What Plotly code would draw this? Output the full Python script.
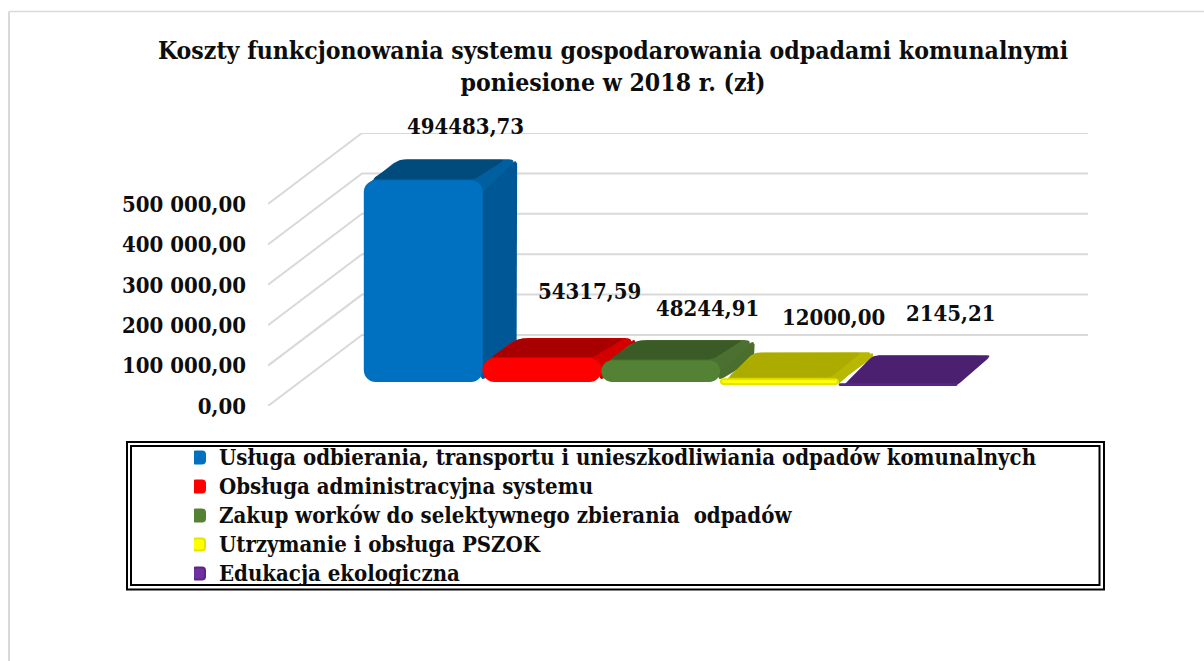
import plotly.graph_objects as go

# ---- data ----
categories = ["Usługa odbierania, transportu i unieszkodliwiania odpadów komunalnych",
              "Obsługa administracyjna systemu",
              "Zakup worków do selektywnego zbierania  odpadów",
              "Utrzymanie i obsługa PSZOK",
              "Edukacja ekologiczna"]
values = [494483.73, 54317.59, 48244.91, 12000.00, 2145.21]
tick_values = [0, 100000, 200000, 300000, 400000, 500000]
tick_labels = ["0,00", "100 000,00", "200 000,00", "300 000,00", "400 000,00", "500 000,00"]
title_lines = ["Koszty funkcjonowania systemu gospodarowania odpadami komunalnymi",
               "poniesione w 2018 r. (zł)"]

# ---- styles ----
front_colors = ["#0070C0", "#FF0000", "#548235", "#FFFF00", "#7030A0"]
front_lines = ["#0070C0", "#FF0000", "#548235", "#E4E400", "#5A2585"]
side_colors = ["#005796", "#C80000", "#4A6E2E", "#B8B800", "#4C2070"]
top_edge = ["#00609F", "#D40000", "#4C7030", "#B8B800", "#4C2070"]
top_inner = ["#004A7C", "#A80000", "#3A5B25", "#ABAB00", "#4C2070"]
FONT = "DejaVu Serif Condensed, DejaVu Serif, serif"
INK = "#0D0D0D"
GRID = "#D9D9D9"

# ---- layout geometry (pixels of the 1204x661 page) ----
W, H = 1204, 661
PLOT_L, PLOT_R, PLOT_T, PLOT_B = 268, 1088, 133, 406
STEP = 118.7            # px per category
X0_PX = 423.3           # px centre of first category
PX_PER_UNIT = 40.4 / 100000
WALL_DX, WALL_DY = 94, 71
BAR_RAISE = [25, 25, 25, 22, 21]
BAR_DX = [34.5, 34.5, 34.5, 34.5, 34.5]
BAR_DY = [22, 21, 21.5, 27, 29]
RADIUS = [11, 11, 11, 8, 7]
TOP_RADIUS = [11, 14, 14, 8, 7]
LABEL_DX = [42.5, 47, 47, 54.5, 53]   # label offset from bar centre, px
LABEL_DY = [55, 68, 53.5, 62.5, 71.4]  # label offset above bar front top, px

x_rng = [(PLOT_L - X0_PX) / STEP, (PLOT_R - X0_PX) / STEP]
y_rng = [0, (PLOT_B - PLOT_T) / PX_PER_UNIT]
dom_y = [1 - PLOT_B / H, 1 - PLOT_T / H]


def ux(px):
    return px / STEP


def uy(px):
    return px / PX_PER_UNIT


def rounded(pts, r, n=6):
    """Round polygon corners; pts are in data units, r in px."""
    P = [(a * STEP, b * PX_PER_UNIT) for a, b in pts]
    out = []
    m = len(P)
    for k in range(m):
        p0, p1, p2 = P[k - 1], P[k], P[(k + 1) % m]
        d1 = ((p0[0] - p1[0]) ** 2 + (p0[1] - p1[1]) ** 2) ** .5
        d2 = ((p2[0] - p1[0]) ** 2 + (p2[1] - p1[1]) ** 2) ** .5
        rr = min(r, d1 / 2, d2 / 2)
        a = (p1[0] + (p0[0] - p1[0]) * rr / d1, p1[1] + (p0[1] - p1[1]) * rr / d1)
        b = (p1[0] + (p2[0] - p1[0]) * rr / d2, p1[1] + (p2[1] - p1[1]) * rr / d2)
        for t in range(n + 1):
            s = t / n
            out.append(((1 - s) ** 2 * a[0] + 2 * s * (1 - s) * p1[0] + s * s * b[0],
                        (1 - s) ** 2 * a[1] + 2 * s * (1 - s) * p1[1] + s * s * b[1]))
    out.append(out[0])
    return [q[0] / STEP for q in out], [q[1] / PX_PER_UNIT for q in out]


fig = go.Figure()


def poly(xs, ys, color):
    fig.add_trace(go.Scatter(x=xs, y=ys, mode="lines", fill="toself", fillcolor=color,
                             line=dict(color=color, width=0), showlegend=False,
                             hoverinfo="skip", xaxis="x", yaxis="y"))


# walls
wx0 = x_rng[0]
wx1 = wx0 + ux(WALL_DX)
wx2 = x_rng[1]
for tv in tick_values:
    fig.add_trace(go.Scatter(x=[wx0, wx1, wx2], y=[tv, tv + uy(WALL_DY), tv + uy(WALL_DY)],
                             mode="lines", line=dict(color=GRID, width=2), showlegend=False,
                             hoverinfo="skip", xaxis="x", yaxis="y"))

# top and side faces, computed from the values
for i, v in enumerate(values):
    b = uy(BAR_RAISE[i])
    dx, dy = ux(BAR_DX[i]), uy(BAR_DY[i])
    L, R = i - .5, i + .5
    h = v + b
    sink = uy(min(RADIUS[i], v * PX_PER_UNIT))   # faces run under the front's rounded corners
    xs, ys = rounded([(R - ux(2), b), (R - ux(2), h), (R + dx, h + dy), (R + dx, b + dy)], 6)
    poly(xs, ys, side_colors[i])
    xs, ys = rounded([(R - ux(RADIUS[i]), h - sink), (R, h - sink), (R + dx, h + dy),
                      (L + dx, h + dy), (L + ux(5), h - uy(1)), (L + ux(RADIUS[i]), h - sink)],
                     TOP_RADIUS[i] * .8)
    poly(xs, ys, top_edge[i])
    xs, ys = rounded([(L + ux(8), h + uy(2)), (R - ux(8), h + uy(2)),
                      (R + dx - ux(12), h + dy - uy(0.5)), (L + dx + ux(2), h + dy - uy(0.5))], 4)
    poly(xs, ys, top_inner[i])

# front faces (bars on an overlaid y axis, so they sit over neighbours' faces)
for i, v in enumerate(values):
    fig.add_trace(go.Bar(x=[i], y=[v], base=[uy(BAR_RAISE[i])], width=[ux(117)],
                         name=f'<span style="font-size:22px">{categories[i]}</span>',
                         marker=dict(color=front_colors[i], cornerradius=RADIUS[i],
                                     line=dict(color=front_lines[i], width=2)),
                         xaxis="x", yaxis="y2", hoverinfo="skip"))

annotations = []
for i, v in enumerate(values):
    annotations.append(dict(x=i, y=v, xref="x", yref="y2",
                            xshift=LABEL_DX[i], yshift=BAR_RAISE[i] + LABEL_DY[i],
                            text=f"{v:.2f}".replace(".", ","), showarrow=False,
                            font=dict(family=FONT, size=22, color=INK, weight="bold")))

shapes = [
    # page frame
    dict(type="line", xref="paper", yref="paper", x0=9 / W, x1=1, y0=1 - 11.5 / H, y1=1 - 11.5 / H,
         line=dict(color=GRID, width=1.5)),
    dict(type="line", xref="paper", yref="paper", x0=9 / W, x1=9 / W, y0=0, y1=1 - 11.5 / H,
         line=dict(color=GRID, width=2)),
    # double legend border
    dict(type="rect", xref="paper", yref="paper", x0=127 / W, x1=1104 / W, y0=1 - 589.5 / H, y1=1 - 442 / H,
         line=dict(color="#000000", width=2)),
    dict(type="rect", xref="paper", yref="paper", x0=131 / W, x1=1099.5 / W, y0=1 - 585 / H, y1=1 - 446 / H,
         line=dict(color="#000000", width=2)),
]

fig.update_layout(
    width=W, height=H, margin=dict(l=0, r=0, t=0, b=0, autoexpand=False),
    paper_bgcolor="white", plot_bgcolor="rgba(0,0,0,0)", barmode="overlay",
    title=dict(text="<br>".join(title_lines),
               x=613 / W, xanchor="center", y=1 - 59 / H, yanchor="top",
               font=dict(family=FONT, size=24.6, color=INK, weight="bold")),
    xaxis=dict(domain=[PLOT_L / W, PLOT_R / W], range=x_rng, visible=False, fixedrange=True, automargin=False),
    yaxis=dict(domain=dom_y, range=y_rng, tickmode="array", tickvals=tick_values, ticktext=tick_labels,
               showgrid=False, zeroline=False, showline=False, ticks="", ticklabelstandoff=21, automargin=False,
               tickfont=dict(family=FONT, size=22, color=INK, weight="bold"), fixedrange=True),
    yaxis2=dict(domain=dom_y, range=y_rng, overlaying="y", side="left", visible=False, fixedrange=True,
                automargin=False),
    legend=dict(x=194 / W, xanchor="left", y=1 - 438 / H, yanchor="top", indentation=-15,
                bgcolor="rgba(0,0,0,0)", borderwidth=0, traceorder="normal", tracegroupgap=0,
                font=dict(family=FONT, size=20, color=INK, weight="bold")),
    annotations=annotations, shapes=shapes, showlegend=True,
)

fig.write_html("out.html", config={"displayModeBar": False},
               post_script="document.body.style.margin='0';")
